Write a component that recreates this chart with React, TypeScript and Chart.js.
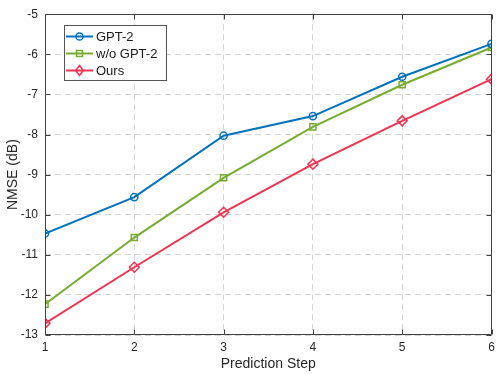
import React, { useEffect, useRef } from "react";
import { Chart, registerables } from "chart.js";

Chart.register(...registerables);

const steps = [1, 2, 3, 4, 5, 6];
const gpt2 = [-10.47, -9.56, -8.03, -7.54, -6.56, -5.74];
const woGpt2 = [-12.23, -10.57, -9.08, -7.81, -6.76, -5.83];
const ours = [-12.71, -11.31, -9.94, -8.74, -7.66, -6.62];
const seriesNames = ["GPT-2", "w/o GPT-2", "Ours"];
const yTicks = [-13, -12, -11, -10, -9, -8, -7, -6, -5];

const BLUE = "#0072BD";
const GREEN = "#77AC30";
const RED = "#EF3350";
const AXIS = "#404040";
const FONT = "'Liberation Sans', Arial, Helvetica, sans-serif";

function drawMarker(ctx: CanvasRenderingContext2D, style: string, x: number, y: number, color: string) {
  ctx.save();
  ctx.strokeStyle = color;
  ctx.lineWidth = 1.5;
  ctx.beginPath();
  if (style === "circle") {
    ctx.arc(x, y, 3.6, 0, Math.PI * 2);
  } else if (style === "rect") {
    ctx.rect(x - 3, y - 3, 6, 6);
  } else {
    ctx.moveTo(x, y - 5);
    ctx.lineTo(x + 3.8, y);
    ctx.lineTo(x, y + 5);
    ctx.lineTo(x - 3.8, y);
    ctx.closePath();
  }
  ctx.stroke();
  ctx.restore();
}

const frame = {
  id: "frame",
  afterDraw(chart: any) {
    const { ctx, chartArea: a, scales } = chart;
    ctx.save();
    ctx.strokeStyle = AXIS;
    ctx.lineWidth = 1;
    const L = Math.round(a.left) + 0.5;
    const R = Math.round(a.right) - 0.5;
    const T = Math.round(a.top) + 0.5;
    const B = Math.round(a.bottom) - 0.5;
    ctx.beginPath();
    ctx.rect(L, T, R - L, B - T);
    const tl = 5;
    for (const v of steps) {
      const x = Math.round(scales.x.getPixelForValue(v)) + 0.5;
      ctx.moveTo(x, B);
      ctx.lineTo(x, B - tl);
      ctx.moveTo(x, T);
      ctx.lineTo(x, T + tl);
    }
    for (const v of yTicks) {
      const y = Math.round(scales.y.getPixelForValue(v)) + 0.5;
      ctx.moveTo(L, y);
      ctx.lineTo(L + tl, y);
      ctx.moveTo(R, y);
      ctx.lineTo(R - tl, y);
    }
    ctx.stroke();

    // legend
    const bx = 64.5, by = 25.5, bw = 102, bh = 55;
    ctx.fillStyle = "#ffffff";
    ctx.fillRect(bx, by, bw, bh);
    ctx.strokeStyle = "#555555";
    ctx.lineWidth = 1;
    ctx.strokeRect(bx, by, bw, bh);
    const colors = [BLUE, GREEN, RED];
    const styles = ["circle", "rect", "diamond"];
    const rows = [36.5, 53.5, 70.5];
    ctx.font = `13px ${FONT}`;
    ctx.textBaseline = "middle";
    ctx.textAlign = "left";
    for (let i = 0; i < 3; i++) {
      ctx.strokeStyle = colors[i];
      ctx.lineWidth = 2;
      ctx.beginPath();
      ctx.moveTo(66, rows[i]);
      ctx.lineTo(93, rows[i]);
      ctx.stroke();
      drawMarker(ctx, styles[i], 79.5, rows[i], colors[i]);
      ctx.fillStyle = "#1a1a1a";
      ctx.fillText(seriesNames[i], 96, rows[i] + 0.5);
    }
    ctx.restore();
  },
};

export default function App() {
  const ref = useRef<HTMLCanvasElement | null>(null);
  useEffect(() => {
    document.body.style.margin = "0";
    const mk = (vals: number[]) => vals.map((y, i) => ({ x: steps[i], y }));
    const chart = new Chart(ref.current as HTMLCanvasElement, {
      type: "line",
      data: {
        datasets: [
          {
            label: seriesNames[0],
            data: mk(gpt2),
            borderColor: BLUE,
            backgroundColor: "transparent",
            borderWidth: 2,
            pointStyle: "circle",
            pointRadius: 3.6,
            pointBorderWidth: 1.5,
            pointBorderColor: BLUE,
            pointBackgroundColor: "transparent",
          },
          {
            label: seriesNames[1],
            data: mk(woGpt2),
            borderColor: GREEN,
            backgroundColor: "transparent",
            borderWidth: 2,
            pointStyle: "rect",
            pointRadius: 4.3,
            pointBorderWidth: 1.5,
            pointBorderColor: GREEN,
            pointBackgroundColor: "transparent",
          },
          {
            label: seriesNames[2],
            data: mk(ours),
            borderColor: RED,
            backgroundColor: "transparent",
            borderWidth: 2,
            pointStyle: "rectRot",
            pointRadius: 5,
            pointBorderWidth: 1.5,
            pointBorderColor: RED,
            pointBackgroundColor: "transparent",
          },
        ],
      },
      options: {
        animation: false,
        responsive: false,
        maintainAspectRatio: false,
        layout: { padding: { top: 12, right: 6, left: 0, bottom: 0 } },
        plugins: { legend: { display: false }, tooltip: { enabled: false } },
        scales: {
          x: {
            type: "linear",
            min: 1,
            max: 6,
            afterFit: (s: any) => {
              s.height = 39;
              s.paddingRight = 0;
              s.paddingLeft = 0;
            },
            afterBuildTicks: (s: any) => {
              s.ticks = steps.map((v) => ({ value: v }));
            },
            ticks: {
              color: "#262626",
              font: { size: 12, family: FONT },
              padding: 5,
              maxRotation: 0,
              autoSkip: false,
            },
            grid: { color: "#d4d4d4", lineWidth: 1, drawTicks: false },
            border: { display: false, dash: [6, 4] },
            title: {
              display: true,
              text: "Prediction Step",
              color: "#262626",
              font: { size: 14, family: FONT },
              padding: { top: 0, bottom: 1 },
            },
          },
          y: {
            type: "linear",
            min: -13,
            max: -5,
            afterFit: (s: any) => {
              s.width = 45;
            },
            afterBuildTicks: (s: any) => {
              s.ticks = yTicks.map((v) => ({ value: v }));
            },
            ticks: {
              color: "#262626",
              font: { size: 12, family: FONT },
              padding: 7,
              autoSkip: false,
            },
            grid: { color: "#d4d4d4", lineWidth: 1, drawTicks: false },
            border: { display: false, dash: [6, 4] },
            title: {
              display: true,
              text: "NMSE (dB)",
              color: "#262626",
              font: { size: 14, family: FONT },
              padding: { top: 5, bottom: 0 },
            },
          },
        },
      },
      plugins: [frame],
    });
    return () => chart.destroy();
  }, []);
  return (
    <div style={{ width: 498, height: 374, background: "#fff" }}>
      <canvas ref={ref} width={498} height={374} style={{ display: "block" }} />
    </div>
  );
}
